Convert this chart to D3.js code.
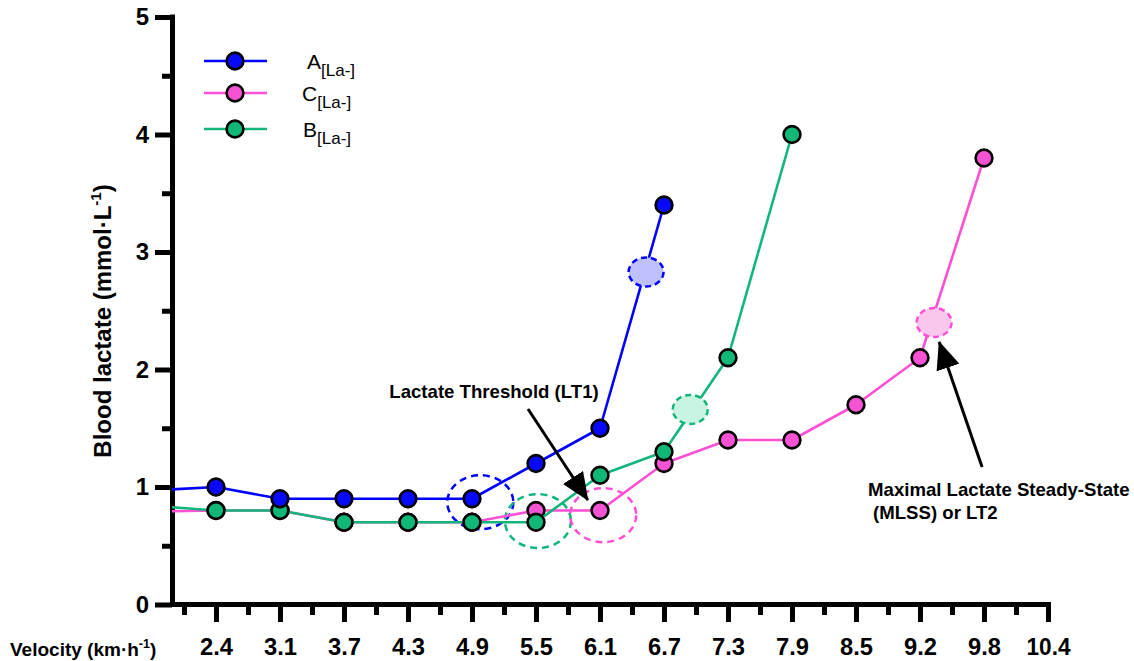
<!DOCTYPE html>
<html>
<head>
<meta charset="utf-8">
<script src="https://cdn.jsdelivr.net/npm/d3@7"></script>
<style>
  html, body { margin: 0; padding: 0; background: #ffffff; }
  svg { display: block; font-family: Arial, "Liberation Sans", sans-serif; }
</style>
</head>
<body>
<svg id="chart" width="1134" height="661"></svg>
<script>
// ---- data ---------------------------------------------------------------
const velocityLabels = ["2.4", "3.1", "3.7", "4.3", "4.9", "5.5", "6.1", "6.7", "7.3", "7.9", "8.5", "9.2", "9.8", "10.4"];
const lactateTicks = [0, 1, 2, 3, 4, 5];
const lactateMinorTicks = [0.5, 1.5, 2.5, 3.5, 4.5];

// stage -1 is the resting sample taken before the first velocity stage
const stagesA = [-1, 0, 1, 2, 3, 4, 5, 6, 7];
const lactateA = [0.97, 1.0, 0.9, 0.9, 0.9, 0.9, 1.2, 1.5, 3.4];

const stagesC = [-1, 0, 1, 2, 3, 4, 5, 6, 7, 8, 9, 10, 11, 12];
const lactateC = [0.79, 0.8, 0.8, 0.7, 0.7, 0.7, 0.8, 0.8, 1.2, 1.4, 1.4, 1.7, 2.1, 3.8];

const stagesB = [-1, 0, 1, 2, 3, 4, 5, 6, 7, 8, 9];
const lactateB = [0.84, 0.8, 0.8, 0.7, 0.7, 0.7, 0.7, 1.1, 1.3, 2.1, 4.0];

// LT1 (dashed rings) and LT2 / MLSS (shaded ellipses), per series A, B, C
const thresholdSeries = ["A", "B", "C"];
const lt1Stage = [4.13, 5.03, 6.05];
const lt1Lactate = [0.87, 0.71, 0.76];
const lt2Stage = [6.72, 7.41, 11.22];
const lt2Lactate = [2.83, 1.66, 2.40];

// annotation arrows: [tail stage, tail lactate, tip stage, tip lactate]
const lt1Arrow = [4.875, 1.664, 5.81, 0.889];
const mlssArrow = [11.97, 1.17, 11.30, 2.234];

// ---- styles -------------------------------------------------------------
const colors = {
  A: { line: "#0000ff", fill: "#0808ff", light: "#bfc0ff" },
  C: { line: "#ff4fd6", fill: "#f552d4", light: "#f9c7ec" },
  B: { line: "#12b57a", fill: "#0fb877", light: "#c9f4e1" }
};

const svg = d3.select("#chart");
const W = 1134, H = 661;

const x = d3.scaleLinear().domain([-0.6875, 13]).range([172, 1048]);
const y = d3.scaleLinear().domain([0, 5]).range([604.5, 17]);

// clip everything to the right of the y axis
const defs = svg.append("defs");
defs.append("clipPath").attr("id", "plotClip")
  .append("rect").attr("x", x.range()[0]).attr("y", 0)
  .attr("width", W - x.range()[0]).attr("height", H);

defs.append("marker")
  .attr("id", "arrowHead")
  .attr("markerUnits", "userSpaceOnUse")
  .attr("viewBox", "0 0 28 24")
  .attr("markerWidth", 28).attr("markerHeight", 24)
  .attr("refX", 27).attr("refY", 12)
  .attr("orient", "auto")
  .append("path").attr("d", "M0,0 L28,12 L0,24 Z").attr("fill", "#000");

// ---- axes ---------------------------------------------------------------
const axisStroke = 5;

// x axis ticks
const xMajor = d3.axisBottom(x)
  .tickValues(d3.range(velocityLabels.length))
  .tickFormat(i => velocityLabels[i])
  .tickSizeInner(17.5).tickSizeOuter(0).tickPadding(15);
const xMinor = d3.axisBottom(x)
  .tickValues(d3.range(velocityLabels.length).map(i => i - 0.5))
  .tickFormat("").tickSizeInner(10.5).tickSizeOuter(0);

const gxMinor = svg.append("g").attr("transform", `translate(0,${y(0)})`).call(xMinor);
const gxMajor = svg.append("g").attr("transform", `translate(0,${y(0)})`).call(xMajor);
[gxMinor, gxMajor].forEach(g => {
  g.select(".domain").remove();
  g.selectAll(".tick line").attr("stroke", "#000").attr("stroke-width", axisStroke);
});
gxMajor.selectAll(".tick text")
  .attr("fill", "#000").attr("font-size", 24).attr("font-weight", "bold")
  .attr("font-family", "Arial, 'Liberation Sans', sans-serif")
  .attr("dy", null).attr("y", 50.5)
  .attr("textLength", 33).attr("lengthAdjust", "spacingAndGlyphs")
  .each(function (d) {
    if (velocityLabels[d].length > 3) d3.select(this).attr("textLength", 44);
  });

// y axis ticks
const yMajor = d3.axisLeft(y).tickValues(lactateTicks).tickFormat(d3.format("d"))
  .tickSizeInner(17).tickSizeOuter(0).tickPadding(6);
const yMinor = d3.axisLeft(y).tickValues(lactateMinorTicks).tickFormat("")
  .tickSizeInner(10).tickSizeOuter(0);
const gyMinor = svg.append("g").attr("transform", `translate(${x.range()[0]},0)`).call(yMinor);
const gyMajor = svg.append("g").attr("transform", `translate(${x.range()[0]},0)`).call(yMajor);
[gyMinor, gyMajor].forEach(g => {
  g.select(".domain").remove();
  g.selectAll(".tick line").attr("stroke", "#000").attr("stroke-width", axisStroke);
});
gyMajor.selectAll(".tick text")
  .attr("fill", "#000").attr("font-size", 24).attr("font-weight", "bold")
  .attr("font-family", "Arial, 'Liberation Sans', sans-serif");

// axis lines
svg.append("line")
  .attr("x1", x.range()[0] + 0.5).attr("x2", x.range()[0] + 0.5)
  .attr("y1", y(5) - 2.5).attr("y2", y(0) + 2.5)
  .attr("stroke", "#000").attr("stroke-width", axisStroke);
svg.append("line")
  .attr("x1", x.range()[0] - 2).attr("x2", x(velocityLabels.length - 1) + 3)
  .attr("y1", y(0)).attr("y2", y(0))
  .attr("stroke", "#000").attr("stroke-width", axisStroke);

// axis titles
const xTitle = svg.append("text")
  .attr("x", 10).attr("y", 656)
  .attr("font-size", 19).attr("font-weight", "bold").attr("fill", "#000");
xTitle.append("tspan").text("Velocity (km\u00B7h");
xTitle.append("tspan").attr("font-size", 12.5).attr("dy", -8).text("-1");
xTitle.append("tspan").attr("dy", 8).text(")");

const yTitle = svg.append("text")
  .attr("transform", "translate(111,321) rotate(-90)")
  .attr("text-anchor", "middle")
  .attr("font-size", 24).attr("font-weight", "bold").attr("fill", "#000");
yTitle.append("tspan").text("Blood lactate (mmol\u00B7L");
yTitle.append("tspan").attr("font-size", 15).attr("dy", -10).text("-1");
yTitle.append("tspan").attr("dy", 10).text(")");

// ---- plot ---------------------------------------------------------------
const plot = svg.append("g").attr("clip-path", "url(#plotClip)");

// LT1 dashed rings
const ltRings = plot.append("g");
thresholdSeries.forEach((s, i) => {
  ltRings.append("ellipse")
    .attr("cx", x(lt1Stage[i])).attr("cy", y(lt1Lactate[i]))
    .attr("rx", 33).attr("ry", 27)
    .attr("fill", "none").attr("stroke", colors[s].line)
    .attr("stroke-width", 2.5).attr("stroke-dasharray", "7 5");
});

const line = d3.line().x(d => x(d[0])).y(d => y(d[1]));
const series = [
  { name: "C", stages: stagesC, values: lactateC },
  { name: "B", stages: stagesB, values: lactateB },
  { name: "A", stages: stagesA, values: lactateA }
];

series.forEach(s => {
  const pts = s.stages.map((st, i) => [st, s.values[i]]);
  const g = plot.append("g");
  g.append("path").datum(pts).attr("d", line)
    .attr("fill", "none").attr("stroke", colors[s.name].line)
    .attr("stroke-width", 2.6).attr("stroke-linejoin", "round");
  g.selectAll("circle").data(pts).join("circle")
    .attr("cx", d => x(d[0])).attr("cy", d => y(d[1]))
    .attr("r", 8.4)
    .attr("fill", colors[s.name].fill)
    .attr("stroke", "#000").attr("stroke-width", 2.6);
});

// LT2 / MLSS shaded ellipses
thresholdSeries.forEach((s, i) => {
  plot.append("ellipse")
    .attr("cx", x(lt2Stage[i])).attr("cy", y(lt2Lactate[i]))
    .attr("rx", 17.5).attr("ry", 14.5)
    .attr("fill", colors[s].light).attr("stroke", colors[s].line)
    .attr("stroke-width", 2.5).attr("stroke-dasharray", "6 4");
});

// ---- annotations --------------------------------------------------------
function arrow(a) {
  svg.append("line")
    .attr("x1", x(a[0])).attr("y1", y(a[1]))
    .attr("x2", x(a[2])).attr("y2", y(a[3]))
    .attr("stroke", "#000").attr("stroke-width", 3)
    .attr("marker-end", "url(#arrowHead)");
}
arrow(lt1Arrow);
arrow(mlssArrow);

svg.append("text")
  .attr("x", x(lt1Arrow[0]) - 34).attr("y", y(lt1Arrow[1]) - 11)
  .attr("text-anchor", "middle")
  .attr("font-size", 18.6).attr("font-weight", "bold").attr("fill", "#000")
  .text("Lactate Threshold (LT1)");

const mlss = svg.append("text")
  .attr("font-size", 18.6).attr("font-weight", "bold").attr("fill", "#000");
mlss.append("tspan")
  .attr("x", x(mlssArrow[0]) - 114).attr("y", y(mlssArrow[1]) + 29)
  .text("Maximal Lactate Steady-State");
mlss.append("tspan")
  .attr("x", x(mlssArrow[0]) - 109).attr("y", y(mlssArrow[1]) + 52)
  .text("(MLSS) or LT2");

// ---- legend -------------------------------------------------------------
const legendItems = [
  { name: "A", cy: 61, tx: 307 },
  { name: "C", cy: 93, tx: 302 },
  { name: "B", cy: 129, tx: 303 }
];
const legend = svg.append("g");
legendItems.forEach(it => {
  legend.append("line")
    .attr("x1", 204).attr("x2", 267).attr("y1", it.cy).attr("y2", it.cy)
    .attr("stroke", colors[it.name].line).attr("stroke-width", 2.6);
  legend.append("circle")
    .attr("cx", 235).attr("cy", it.cy).attr("r", 8.4)
    .attr("fill", colors[it.name].fill)
    .attr("stroke", "#000").attr("stroke-width", 2.6);
  const t = legend.append("text")
    .attr("x", it.tx).attr("y", it.cy + 7.5)
    .attr("font-size", 21).attr("fill", "#000");
  t.append("tspan").text(it.name);
  t.append("tspan").attr("font-size", 17).attr("dy", 7).text("[La-]");
});
</script>
</body>
</html>
